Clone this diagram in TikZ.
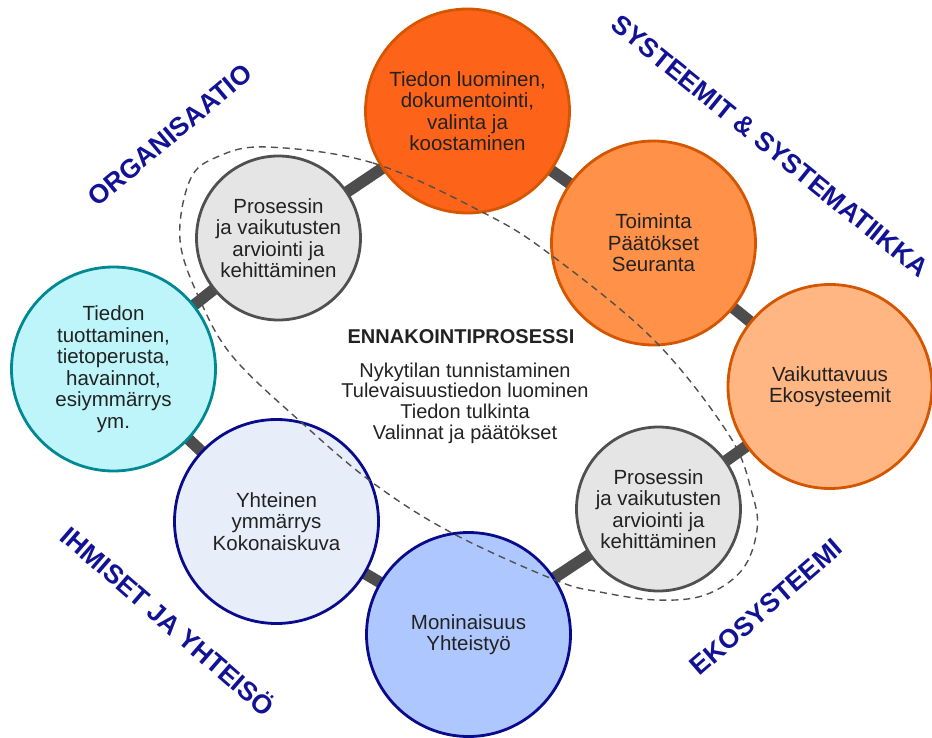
\documentclass[tikz,border=0pt]{standalone}
\usepackage{fontspec}
\setmainfont{Liberation Sans}
\usetikzlibrary{backgrounds}
\definecolor{orTop}{RGB}{254,99,26}
\definecolor{orMid}{RGB}{255,145,72}
\definecolor{orLight}{RGB}{255,182,131}
\definecolor{orLine}{RGB}{212,86,0}
\definecolor{grFill}{RGB}{229,229,229}
\definecolor{grLine}{RGB}{80,80,80}
\definecolor{cyFill}{RGB}{190,245,250}
\definecolor{cyLine}{RGB}{0,137,147}
\definecolor{lvFill}{RGB}{231,238,250}
\definecolor{blFill}{RGB}{174,200,255}
\definecolor{navyLine}{RGB}{10,10,140}
\definecolor{labBlue}{RGB}{18,18,150}
\definecolor{connGray}{RGB}{77,77,77}
\definecolor{txt}{RGB}{34,34,34}
\definecolor{dashGray}{RGB}{80,80,80}
\begin{document}
\begin{tikzpicture}[x=1pt,y=-1pt,
  bubble/.style={circle, line width=2.8pt, inner sep=0pt, minimum size=204pt,
    align=center, text=txt, font=\fontsize{20.5}{21.5}\selectfont},
  smallbubble/.style={bubble, minimum size=164pt, fill=grFill, draw=grLine},
  conn/.style={line width=11.5pt, draw=connGray},
  sectlab/.style={text=labBlue, font=\fontsize{26.5}{28}\selectfont\bfseries, inner sep=0pt},
  loop/.style={draw=dashGray, line width=1.4pt, dash pattern=on 7pt off 5pt}
]
\useasboundingbox (0,0) rectangle (932,738);

\node[bubble, fill=orTop, draw=orLine] (n1) at (467.5,111)
  {Tiedon luominen,\\dokumentointi,\\valinta ja\\koostaminen};
\node[bubble, fill=orMid, draw=orLine] (n2) at (653.5,243)
  {Toiminta\\Päätökset\\Seuranta};
\node[bubble, fill=orLight, draw=orLine] (n3) at (830,386.5)
  {Vaikuttavuus\\Ekosysteemit};
\node[smallbubble] (n4) at (658.5,509)
  {Prosessin\\ja vaikutusten\\arviointi ja\\kehittäminen};
\node[bubble, fill=blFill, draw=navyLine] (n5) at (468.5,634.5)
  {Moninaisuus\\Yhteistyö};
\node[bubble, fill=lvFill, draw=navyLine] (n6) at (276.5,521.5)
  {Yhteinen\\ymmärrys\\Kokonaiskuva};
\node[bubble, fill=cyFill, draw=cyLine] (n7) at (113.5,369)
  {Tiedon\\tuottaminen,\\tietoperusta,\\havainnot,\\esiymmärrys\\ym.};
\node[smallbubble] (n8) at (278.5,238)
  {Prosessin\\ja vaikutusten\\arviointi ja\\kehittäminen};

\begin{pgfonlayer}{background}
  \draw[conn] (n1.center) -- (n2.center);
  \draw[conn] (n2.center) -- (n3.center);
  \draw[conn] (n3.center) -- (n4.center);
  \draw[conn] (n4.center) -- (n5.center);
  \draw[conn] (n5.center) -- (n6.center);
  \draw[conn] (n6.center) -- (n7.center);
  \draw[conn] (n7.center) -- (n8.center);
  \draw[conn] (n8.center) -- (n1.center);
\end{pgfonlayer}

\draw[loop] plot[smooth cycle, tension=0.6] coordinates {
  (267,147) (373,163) (484,213) (551,255) (654,340) (729,435) (752,493)
  (757,530) (742,570) (705,595) (657,600) (600,592) (555,580) (452,533)
  (373,483) (302,423) (233,357) (200,300) (180,240) (190,180) (217,157)};

\node[text=txt, font=\fontsize{20}{21}\selectfont\bfseries, inner sep=0pt, anchor=base]
  (title) at (461,343) {ENNAKOINTIPROSESSI};
\node[text=txt, font=\fontsize{20}{20.7}\selectfont, align=center, inner sep=0pt]
  (steps) at (465,403)
  {Nykytilan tunnistaminen\\Tulevaisuustiedon luominen\\Tiedon tulkinta\\Valinnat ja päätökset};

\node[sectlab, rotate=40] (org) at (170,135) {ORGANISAATIO};
\node[sectlab, rotate=-39] (sys) at (770,146) {SYSTEEMIT \& SYSTEMATIIKKA};
\node[sectlab, rotate=-41] (ihm) at (169,620) {IHMISET JA YHTEISÖ};
\node[sectlab, rotate=41] (eko) at (766,607) {EKOSYSTEEMI};
\end{tikzpicture}
\end{document}
